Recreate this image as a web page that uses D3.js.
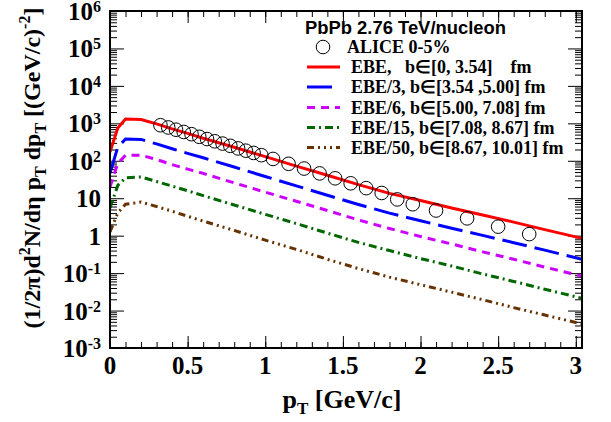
<!DOCTYPE html>
<html>
<head>
<meta charset="utf-8">
<script src="https://cdn.jsdelivr.net/npm/d3@7"></script>
<style>
body { margin: 0; background: #fff; }
svg { display: block; }
.serif { font-family: "Liberation Serif", "Times New Roman", serif; font-weight: bold; }
.sans { font-family: "Liberation Sans", Arial, sans-serif; font-weight: bold; }
</style>
</head>
<body>
<script>
// model curves (pT grid shared by all five)
var pT    = [0, 0.05, 0.1, 0.2, 0.3, 0.4, 0.5, 0.6, 0.8, 1.0, 1.2, 1.4, 1.6, 1.8, 2.0, 2.2, 2.4, 2.6, 2.8, 3.0, 3.04];
var ebe   = [170, 750, 1300, 1260, 970, 710, 540, 400, 230, 129, 72, 41, 23, 13.5, 8.7, 5.5, 3.55, 2.3, 1.45, 0.93, 0.85];
var ebe3  = [47, 230, 380, 372, 282, 209, 158, 120, 68, 38, 21.4, 12, 6.8, 4.0, 2.5, 1.58, 1.02, 0.65, 0.41, 0.257, 0.234];
var ebe6  = [20, 85, 140, 141, 108, 79, 60, 46, 25.7, 14.5, 8.3, 4.7, 2.63, 1.55, 0.95, 0.60, 0.37, 0.234, 0.145, 0.091, 0.083];
var ebe15 = [5.5, 22, 35, 37, 28, 21, 15.8, 11.7, 6.6, 3.7, 2.1, 1.17, 0.66, 0.40, 0.245, 0.155, 0.095, 0.060, 0.037, 0.0234, 0.0214];
var ebe50 = [1.26, 4.0, 6.9, 7.9, 6.0, 4.5, 3.3, 2.45, 1.38, 0.76, 0.43, 0.234, 0.132, 0.078, 0.049, 0.031, 0.0195, 0.012, 0.0076, 0.0048, 0.0044];

// ALICE 0-5% points
var alicePt  = [0.325, 0.375, 0.425, 0.475, 0.525, 0.575, 0.625, 0.675, 0.725, 0.775, 0.825, 0.875, 0.925, 0.975,
                1.05, 1.15, 1.25, 1.35, 1.45, 1.55, 1.65, 1.75, 1.85, 1.95, 2.1, 2.3, 2.5, 2.7];
var aliceVal = [890, 776, 676, 589, 513, 437, 380, 331, 288, 251, 214, 186, 162, 141,
                112, 83, 62, 46, 34, 25, 18.6, 13.8, 9.3, 6.9, 4.7, 2.9, 1.74, 1.1];

var seriesNames = ["EBE,   b\u2208[0, 3.54]    fm", "EBE/3, b\u2208[3.54 ,5.00] fm", "EBE/6, b\u2208[5.00, 7.08] fm",
                   "EBE/15, b\u2208[7.08, 8.67] fm", "EBE/50, b\u2208[8.67, 10.01] fm"];
var seriesData = [ebe, ebe3, ebe6, ebe15, ebe50];

var xTickLabels = ["0", "0.5", "1", "1.5", "2", "2.5", "3"];
var yExponents = [-3, -2, -1, 0, 1, 2, 3, 4, 5, 6];

var colors = ["#ff0000", "#0000ff", "#cc00ff", "#006600", "#663300"];
var dashes = [null, "25 8", "8 6", "8 4 2 4", "7 4 2 4 2 4 2 4"];

var W = 611, H = 422;
var plotL = 110, plotR = 582, plotT = 11, plotB = 348;

var x = d3.scaleLinear().domain([0, 3.04]).range([plotL, plotR]);
var y = d3.scaleLog().domain([1e-3, 1e6]).range([plotB, plotT]);

var svg = d3.select("body").append("svg").attr("width", W).attr("height", H);

svg.append("defs").append("clipPath").attr("id", "plot")
	.append("rect").attr("x", plotL).attr("y", plotT).attr("width", plotR - plotL).attr("height", plotB - plotT);

// ticks
var xMinor = d3.range(0, 3.001, 0.1).map(function(d) { return +d.toFixed(2); });
var xMajor = xTickLabels.map(function(d) { return +d; });
var yMajor = yExponents.map(function(e) { return Math.pow(10, e); });
var yMinor = [];
for (var e = -3; e < 6; e++) for (var m = 2; m <= 9; m++) yMinor.push(m * Math.pow(10, e));

var tickAxis = function(axis, g) {
	g.call(axis);
	g.select(".domain").remove();
	g.selectAll("line").attr("stroke", "#000").attr("stroke-width", 1);
};

tickAxis(d3.axisBottom(x).tickValues(xMinor).tickSize(-6).tickFormat(""), svg.append("g").attr("transform", "translate(0," + plotB + ")"));
tickAxis(d3.axisBottom(x).tickValues(xMajor).tickSize(-12).tickFormat(""), svg.append("g").attr("transform", "translate(0," + plotB + ")"));
tickAxis(d3.axisTop(x).tickValues(xMinor).tickSize(-6).tickFormat(""), svg.append("g").attr("transform", "translate(0," + plotT + ")"));
tickAxis(d3.axisTop(x).tickValues(xMajor).tickSize(-12).tickFormat(""), svg.append("g").attr("transform", "translate(0," + plotT + ")"));
tickAxis(d3.axisLeft(y).tickValues(yMinor).tickSize(-7).tickFormat(""), svg.append("g").attr("transform", "translate(" + plotL + ",0)"));
tickAxis(d3.axisLeft(y).tickValues(yMajor).tickSize(-14).tickFormat(""), svg.append("g").attr("transform", "translate(" + plotL + ",0)"));
tickAxis(d3.axisRight(y).tickValues(yMinor).tickSize(-7).tickFormat(""), svg.append("g").attr("transform", "translate(" + plotR + ",0)"));
tickAxis(d3.axisRight(y).tickValues(yMajor).tickSize(-14).tickFormat(""), svg.append("g").attr("transform", "translate(" + plotR + ",0)"));

// tick labels
svg.append("g").selectAll("text").data(xTickLabels).enter().append("text")
	.attr("class", "serif")
	.attr("x", function(d) { return x(+d); })
	.attr("y", 374)
	.attr("text-anchor", "middle")
	.attr("font-size", 25)
	.text(function(d) { return d; });

var yl = svg.append("g").selectAll("text").data(yExponents).enter().append("text")
	.attr("class", "serif")
	.attr("x", 101)
	.attr("y", function(d) { return y(Math.pow(10, d)) + 9; })
	.attr("text-anchor", "end")
	.attr("font-size", 25);
yl.append("tspan").text(function(d) { return d === 0 ? "1" : "10"; });
yl.filter(function(d) { return d !== 0 && d !== 1; }).append("tspan")
	.attr("font-size", 16).attr("dy", -8)
	.text(function(d) { return d; });

// curves
var line = d3.line()
	.x(function(d) { return x(d[0]); })
	.y(function(d) { return y(d[1]); });

var curves = svg.append("g").attr("clip-path", "url(#plot)");
seriesData.forEach(function(vals, i) {
	curves.append("path")
		.datum(pT.map(function(p, j) { return [p, vals[j]]; }))
		.attr("fill", "none")
		.attr("stroke", colors[i])
		.attr("stroke-width", 3)
		.attr("stroke-dasharray", dashes[i])
		.attr("d", line);
});

curves.selectAll("circle").data(alicePt).enter().append("circle")
	.attr("cx", function(d) { return x(d); })
	.attr("cy", function(d, i) { return y(aliceVal[i]); })
	.attr("r", 6.8)
	.attr("fill", "none")
	.attr("stroke", "#000")
	.attr("stroke-width", 1);

// frame
svg.append("rect").attr("x", plotL).attr("y", plotT).attr("width", plotR - plotL).attr("height", plotB - plotT)
	.attr("fill", "none").attr("stroke", "#000").attr("stroke-width", 2);

// legend
svg.append("text").attr("class", "sans").attr("x", 305).attr("y", 34).attr("font-size", 18.4)
	.text("PbPb 2.76 TeV/nucleon");
svg.append("circle").attr("cx", 323).attr("cy", 47).attr("r", 6.8)
	.attr("fill", "none").attr("stroke", "#000").attr("stroke-width", 1);
svg.append("text").attr("class", "serif").attr("x", 347).attr("y", 53).attr("font-size", 18)
	.text("ALICE 0-5%");

var legY = [73, 93, 113.5, 133.5, 153.5];
var leg = svg.append("g").selectAll("g").data(seriesNames).enter().append("g");
leg.append("line")
	.attr("x1", 307).attr("x2", 340)
	.attr("y1", function(d, i) { return legY[i] - 6; })
	.attr("y2", function(d, i) { return legY[i] - 6; })
	.attr("stroke", function(d, i) { return colors[i]; })
	.attr("stroke-width", 3)
	.attr("stroke-dasharray", function(d, i) { return dashes[i]; });
leg.append("text")
	.attr("class", "serif")
	.attr("x", 351)
	.attr("y", function(d, i) { return legY[i]; })
	.attr("font-size", 18)
	.style("white-space", "pre")
	.text(function(d) { return d; });

// axis titles
var xt = svg.append("text").attr("class", "serif").attr("x", 342).attr("y", 408)
	.attr("text-anchor", "middle").attr("font-size", 26);
xt.append("tspan").text("p");
xt.append("tspan").attr("font-size", 17).attr("dy", 6).text("T");
xt.append("tspan").attr("dy", -6).text(" [GeV/c]");

var yt = svg.append("text").attr("class", "serif")
	.attr("transform", "translate(40,168) rotate(-90)")
	.attr("text-anchor", "middle").attr("font-size", 24);
yt.append("tspan").text("(1/2\u03c0)d");
yt.append("tspan").attr("font-size", 16).attr("dy", -10).text("2");
yt.append("tspan").attr("dy", 10).text("N/d\u03b7 p");
yt.append("tspan").attr("font-size", 16).attr("dy", 6).text("T");
yt.append("tspan").attr("dy", -6).text(" dp");
yt.append("tspan").attr("font-size", 16).attr("dy", 6).text("T");
yt.append("tspan").attr("dy", -6).text(" [(GeV/c)");
yt.append("tspan").attr("font-size", 16).attr("dy", -10).text("-2");
yt.append("tspan").attr("dy", 10).text("]");
</script>
</body>
</html>
